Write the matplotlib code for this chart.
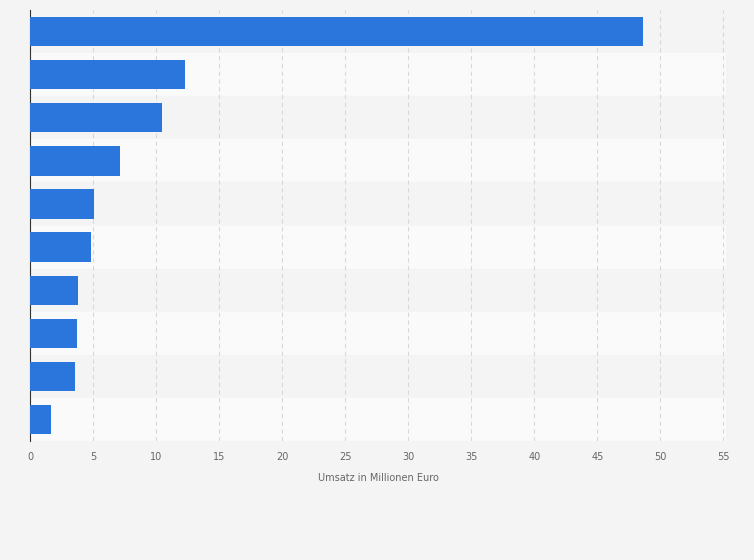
import matplotlib
matplotlib.use("Agg")
import matplotlib.pyplot as plt

categories = ["A", "B", "C", "D", "E", "F", "G", "H", "I", "J"]
values = [48.6, 12.3, 10.5, 7.1, 5.1, 4.8, 3.8, 3.7, 3.6, 1.65]
xticks = [0, 5, 10, 15, 20, 25, 30, 35, 40, 45, 50, 55]

fig = plt.figure(figsize=(7.54, 5.6), dpi=100, facecolor="#f4f4f4")
ax = fig.add_axes([0.0398, 0.2125, 0.923, 0.7695])
ax.set_facecolor("#f4f4f4")
n = len(categories)
pos = list(range(n))
for i in pos:
    ax.axhspan(i - 0.5, i + 0.5, color="#f4f4f4" if i % 2 == 0 else "#fafafa", zorder=0)
ax.barh(pos, values, height=0.68, color="#2a76dd", zorder=3)
ax.set_ylim(n - 0.5, -0.5)
ax.set_xlim(0, 55.2)
ax.set_xticks(xticks)
ax.set_xticklabels([str(t) for t in xticks], fontsize=7, color="#666666")
ax.set_yticks([])
ax.grid(axis="x", color="#d8d8d8", linestyle=(0, (4, 3)), linewidth=0.8, zorder=1)
for s in ["top", "right", "bottom"]:
    ax.spines[s].set_visible(False)
ax.spines["left"].set_color("#333333")
ax.tick_params(axis="x", length=0, pad=8)
ax.set_xlabel("Umsatz in Millionen Euro", fontsize=7, color="#666666", labelpad=8)
fig.savefig("out.png", dpi=100, facecolor=fig.get_facecolor())
